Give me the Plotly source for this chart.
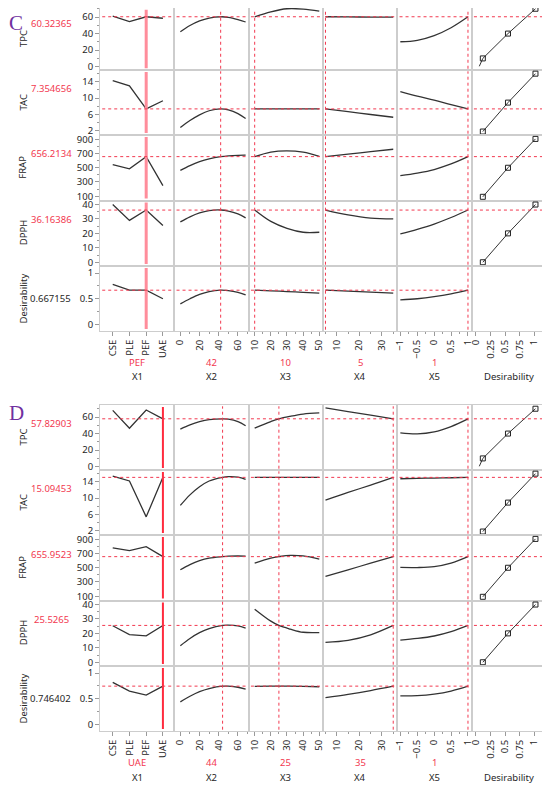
import plotly.graph_objects as go

# the page has an 8px body margin, so the figure starts at (8, 8) in the window
OFF = 8
W, H = 550 - OFF, 787 - OFF
FONT = "Noto Sans"
FS = 9.5
RED = "#f2384f"
BORDER = "#cdcdcd"
TICKC = "#9a9a9a"
CURVE = "#333333"
TXT = "#262626"

# ===== DATA =====
RESPONSES = ["TPC", "TAC", "FRAP", "DPPH", "Desirability"]
FACTORS = ["X1", "X2", "X3", "X4", "X5", "Desirability"]
X1_LEVELS = ["CSE", "PLE", "PEF", "UAE"]

# panel C : current settings and predicted values
C_SET = ["PEF", 42, 10, 5, 1]
C_PRED = [60.32365, 7.354656, 656.2134, 36.16386, 0.667155]
C_PRED_TXT = ["60.32365", "7.354656", "656.2134", "36.16386", "0.667155"]

C_X2 = [0, 10, 20, 30, 42, 50, 60, 68]
C_X3 = [10, 20, 30, 40, 50]
C_X4 = [5, 15, 25, 35]
C_X5 = [-1, -0.5, 0, 0.5, 1]

C_TPC_X1 = [61, 54.5, 60.3, 58.5]
C_TPC_X2 = [42.2, 49.7, 55.3, 58.8, 60.3, 59.7, 57.0, 54.0]
C_TPC_X3 = [60.3, 66.3, 70.0, 69.6, 67.0]
C_TPC_X4 = [60.3, 60.1, 59.95, 59.8]
C_TPC_X5 = [30.1, 31.9, 37.6, 47.1, 60.3]

C_TAC_X1 = [14.3, 13.0, 7.35, 9.35]
C_TAC_X2 = [2.8, 4.5, 5.9, 6.9, 7.35, 7.1, 6.2, 5.0]
C_TAC_X3 = [7.35, 7.35, 7.35, 7.35, 7.35]
C_TAC_X4 = [7.35, 6.67, 5.98, 5.3]
C_TAC_X5 = [11.6, 10.5, 9.5, 8.4, 7.35]

C_FRAP_X1 = [545, 485, 656, 250]
C_FRAP_X2 = [463, 530, 585, 625, 656, 668, 675, 676]
C_FRAP_X3 = [656, 720, 737, 718, 660]
C_FRAP_X4 = [656, 691, 726, 760]
C_FRAP_X5 = [388, 425, 475, 553, 656]

C_DPPH_X1 = [40, 29, 36.2, 25.5]
C_DPPH_X2 = [28, 31.5, 34.2, 35.8, 36.2, 35.5, 33.5, 30.8]
C_DPPH_X3 = [36.2, 28.3, 23.5, 20.8, 20.8]
C_DPPH_X4 = [36.2, 32.8, 30.6, 30.1]
C_DPPH_X5 = [19.6, 22.8, 26.5, 31.0, 36.2]

C_DES_X1 = [0.78, 0.67, 0.667, 0.5]
C_DES_X2 = [0.40, 0.50, 0.585, 0.64, 0.667, 0.66, 0.625, 0.575]
C_DES_X3 = [0.667, 0.655, 0.64, 0.625, 0.61]
C_DES_X4 = [0.667, 0.648, 0.629, 0.61]
C_DES_X5 = [0.477, 0.50, 0.54, 0.595, 0.667]

# panel D
D_SET = ["UAE", 44, 25, 35, 1]
D_PRED = [57.82903, 15.09453, 655.9523, 25.5265, 0.746402]
D_PRED_TXT = ["57.82903", "15.09453", "655.9523", "25.5265", "0.746402"]

D_X2 = [0, 10, 20, 30, 44, 50, 60, 68]
D_X3 = [10, 20, 25, 32, 40, 50]
D_X4 = [5, 15, 25, 35]
D_X5 = [-1, -0.5, 0, 0.5, 1]

D_TPC_X1 = [68, 46.5, 68.5, 57.8]
D_TPC_X2 = [45.4, 50.5, 54.3, 56.8, 57.8, 57.4, 54.5, 49.5]
D_TPC_X3 = [46.6, 54.5, 57.8, 60.8, 63.5, 64.9]
D_TPC_X4 = [71, 66.6, 62.2, 57.8]
D_TPC_X5 = [40.8, 39.6, 42.0, 48.5, 57.8]

D_TAC_X1 = [15.4, 14.2, 5.4, 15.1]
D_TAC_X2 = [8.2, 10.8, 12.8, 14.2, 15.1, 15.25, 15.15, 14.6]
D_TAC_X3 = [15.1, 15.1, 15.1, 15.1, 15.1, 15.1]
D_TAC_X4 = [9.5, 11.4, 13.2, 15.1]
D_TAC_X5 = [14.75, 14.85, 14.93, 15.0, 15.1]

D_FRAP_X1 = [780, 742, 797, 656]
D_FRAP_X2 = [472, 545, 600, 635, 656, 662, 665, 662]
D_FRAP_X3 = [566, 635, 656, 674, 666, 621]
D_FRAP_X4 = [379, 471, 564, 656]
D_FRAP_X5 = [504, 503, 516, 565, 656]

D_DPPH_X1 = [25.3, 19.2, 18.3, 25.5]
D_DPPH_X2 = [11.5, 16.5, 20.5, 23.3, 25.5, 25.7, 25.2, 23.7]
D_DPPH_X3 = [36.8, 28.5, 25.5, 23.0, 20.8, 20.6]
D_DPPH_X4 = [13.8, 15.2, 19.0, 25.5]
D_DPPH_X5 = [15.4, 16.5, 18.2, 21.2, 25.5]

D_DES_X1 = [0.82, 0.65, 0.57, 0.746]
D_DES_X2 = [0.44, 0.55, 0.64, 0.70, 0.746, 0.745, 0.725, 0.69]
D_DES_X3 = [0.74, 0.745, 0.746, 0.745, 0.742, 0.735]
D_DES_X4 = [0.52, 0.585, 0.66, 0.746]
D_DES_X5 = [0.555, 0.56, 0.59, 0.65, 0.746]

# desirability functions (same in both panels)
DES_PTS = [0.12, 0.55, 1.02]
TPC_DES = [10, 40, 70]
TAC_DES = [1.8, 8.9, 16.0]
FRAP_DES = [92, 500, 905]
DPPH_DES = [0, 20, 40]
TPC_TAIL_X = [0.06, 0.09]
TPC_TAIL_Y = [0.5, 6.0]

# ===== LAYOUT SETTINGS (window pixels) =====
COL_EDGES = [100, 174.3, 248.7, 323, 397.3, 471.7, 546]
# panel C cannot start above the page margin
C_ROWS = [8, 70, 135, 200.5, 266, 331]
D_ROWS = [405, 470, 535, 600.5, 666, 731]

C_YRANGES = [[-4, 70.9], [0.95, 16.9], [40, 960], [-2.6, 42.8], [-0.13, 1.14]]
D_YRANGES = [[-4, 74.5], [0.95, 16.9], [40, 960], [-2.6, 42.8], [-0.13, 1.14]]
Y_TICK0 = [0, 2, 100, 0, 0]
Y_DTICK = [20, 4, 200, 10, 0.5]
Y_MINOR = [10, 2, 100, 5, 0.25]

X_RANGES = [[-0.76, 3.68], [-6.3, 71.2], [6.3, 52.3], [3.9, 36.8], [-1.09, 1.11], [-0.07, 1.2]]
X_TICK0 = [None, 0, 10, 10, -1, 0]
X_DTICK = [None, 20, 10, 10, 0.5, 0.25]
X_MINOR = [None, 10, 5, 5, 0.25, None]

PANELS = [
    dict(letter="C", letter_y=23, rows=C_ROWS, yranges=C_YRANGES,
         setting=C_SET, pred=C_PRED, pred_txt=C_PRED_TXT,
         grids=[X1_LEVELS, C_X2, C_X3, C_X4, C_X5],
         curves=[[C_TPC_X1, C_TPC_X2, C_TPC_X3, C_TPC_X4, C_TPC_X5],
                 [C_TAC_X1, C_TAC_X2, C_TAC_X3, C_TAC_X4, C_TAC_X5],
                 [C_FRAP_X1, C_FRAP_X2, C_FRAP_X3, C_FRAP_X4, C_FRAP_X5],
                 [C_DPPH_X1, C_DPPH_X2, C_DPPH_X3, C_DPPH_X4, C_DPPH_X5],
                 [C_DES_X1, C_DES_X2, C_DES_X3, C_DES_X4, C_DES_X5]],
         x1_color="#ff8d9b", x1_width=3),
    dict(letter="D", letter_y=413, rows=D_ROWS, yranges=D_YRANGES,
         setting=D_SET, pred=D_PRED, pred_txt=D_PRED_TXT,
         grids=[X1_LEVELS, D_X2, D_X3, D_X4, D_X5],
         curves=[[D_TPC_X1, D_TPC_X2, D_TPC_X3, D_TPC_X4, D_TPC_X5],
                 [D_TAC_X1, D_TAC_X2, D_TAC_X3, D_TAC_X4, D_TAC_X5],
                 [D_FRAP_X1, D_FRAP_X2, D_FRAP_X3, D_FRAP_X4, D_FRAP_X5],
                 [D_DPPH_X1, D_DPPH_X2, D_DPPH_X3, D_DPPH_X4, D_DPPH_X5],
                 [D_DES_X1, D_DES_X2, D_DES_X3, D_DES_X4, D_DES_X5]],
         x1_color="#ff2b3e", x1_width=2),
]
DES_FUNCS = [TPC_DES, TAC_DES, FRAP_DES, DPPH_DES]


def px_x(px):
    return (px - OFF) / W


def px_y(py):
    return 1 - (py - OFF) / H


def ax_names(k):
    s = "" if k == 1 else str(k)
    return "x" + s, "y" + s, "xaxis" + s, "yaxis" + s


def label(text, x, y, color=TXT, angle=0, size=FS, family=FONT):
    return dict(text=text, x=px_x(x), y=px_y(y), xref="paper", yref="paper",
                xanchor="center", yanchor="middle", textangle=angle, showarrow=False,
                font=dict(family=family, size=size, color=color))


fig = go.Figure()
layout = {}
shapes = []
annots = []

for p, panel in enumerate(PANELS):
    rows = panel["rows"]
    for r in range(5):
        y_top, y_bot = rows[r], rows[r + 1]
        for c in range(6):
            k = p * 30 + r * 6 + c + 1
            xn, yn, xa, ya = ax_names(k)

            xax = dict(domain=[px_x(COL_EDGES[c]), px_x(COL_EDGES[c + 1])], anchor=yn,
                       range=X_RANGES[c], showgrid=False, zeroline=False, automargin=False,
                       showline=True, mirror=True, linecolor=BORDER, linewidth=1,
                       fixedrange=True)
            if c == 0:
                xax.update(type="category", categoryorder="array", categoryarray=X1_LEVELS)
            else:
                xax.update(type="linear", tickmode="linear", tick0=X_TICK0[c], dtick=X_DTICK[c])
            if r == 4:
                xax.update(ticks="outside", ticklen=4, tickcolor=TICKC, tickangle=-90,
                           tickfont=dict(family=FONT, size=FS, color=TXT))
                if X_MINOR[c]:
                    xax["minor"] = dict(dtick=X_MINOR[c], tick0=X_TICK0[c], ticks="outside",
                                        ticklen=2, tickcolor=TICKC)
            else:
                xax.update(showticklabels=False, ticks="")

            yax = dict(domain=[px_y(y_bot), px_y(y_top)], anchor=xn, type="linear",
                       range=panel["yranges"][r], showgrid=False, zeroline=False,
                       automargin=False, showline=True, mirror=True, linecolor=BORDER,
                       linewidth=1, tickmode="linear", tick0=Y_TICK0[r], dtick=Y_DTICK[r],
                       fixedrange=True)
            if c == 0:
                yax.update(ticks="outside", ticklen=4, tickcolor=TICKC,
                           tickfont=dict(family=FONT, size=FS, color=TXT),
                           minor=dict(dtick=Y_MINOR[r], tick0=Y_TICK0[r], ticks="outside",
                                      ticklen=2, tickcolor=TICKC))
            else:
                yax.update(showticklabels=False, ticks="")
            layout[xa] = xax
            layout[ya] = yax

            # profile curves
            if c < 5:
                fig.add_trace(go.Scatter(
                    x=panel["grids"][c], y=panel["curves"][r][c], mode="lines",
                    line=dict(color=CURVE, width=1.3, shape="linear" if c == 0 else "spline"),
                    xaxis=xn, yaxis=yn, showlegend=False, hoverinfo="skip"))
                # current factor setting
                if c == 0:
                    idx = X1_LEVELS.index(panel["setting"][0])
                    shapes.append(dict(type="line", xref=xn, yref=yn + " domain",
                                       x0=idx, x1=idx, y0=0.03, y1=0.97,
                                       line=dict(color=panel["x1_color"], width=panel["x1_width"])))
                else:
                    shapes.append(dict(type="line", xref=xn, yref=yn + " domain",
                                       x0=panel["setting"][c], x1=panel["setting"][c],
                                       y0=0.02, y1=0.98,
                                       line=dict(color=RED, width=1, dash="dot")))
            elif r < 4:
                lx = DES_PTS
                ly = DES_FUNCS[r]
                if r == 0:
                    lx = TPC_TAIL_X + DES_PTS
                    ly = TPC_TAIL_Y + TPC_DES
                fig.add_trace(go.Scatter(
                    x=lx, y=ly, mode="lines", line=dict(color=CURVE, width=1),
                    xaxis=xn, yaxis=yn, showlegend=False, hoverinfo="skip"))
                fig.add_trace(go.Scatter(
                    x=DES_PTS, y=DES_FUNCS[r], mode="markers",
                    marker=dict(symbol="square-open", size=5, color="#222",
                                line=dict(width=1)),
                    xaxis=xn, yaxis=yn, showlegend=False, hoverinfo="skip"))
            else:
                # empty corner cell still needs a subplot for its axis ticks
                fig.add_trace(go.Scatter(x=[], y=[], mode="lines", xaxis=xn, yaxis=yn,
                                         showlegend=False, hoverinfo="skip"))

            # current predicted value
            if not (c == 5 and r == 4):
                shapes.append(dict(type="line", xref=xn + " domain", yref=yn,
                                   x0=0.03, x1=0.97, y0=panel["pred"][r], y1=panel["pred"][r],
                                   line=dict(color=RED, width=1, dash="dot")))

        # row labels on the left
        annots.append(label(RESPONSES[r], 23, (y_top + y_bot) / 2, angle=-90))
        if r == 4:
            annots.append(label(panel["pred_txt"][r], 50, (y_top + y_bot) / 2))
        else:
            annots.append(label(panel["pred_txt"][r], 51, rows[r + 1] - 46.5, color=RED))

    # bottom labels
    base = rows[5]
    for c in range(6):
        cx = (COL_EDGES[c] + COL_EDGES[c + 1]) / 2
        if c < 5:
            annots.append(label(str(panel["setting"][c]), cx, base + 31, color=RED))
        annots.append(label(FACTORS[c], cx, base + 46))

    # panel letter
    annots.append(label(panel["letter"], 16, panel["letter_y"], color="#7030a0",
                        size=21, family="Liberation Serif"))

layout.update(width=W, height=H, margin=dict(l=0, r=0, t=0, b=0),
              paper_bgcolor="white", plot_bgcolor="white",
              shapes=shapes, annotations=annots, showlegend=False)
fig.update_layout(**layout)

fig.write_html("out.html")
